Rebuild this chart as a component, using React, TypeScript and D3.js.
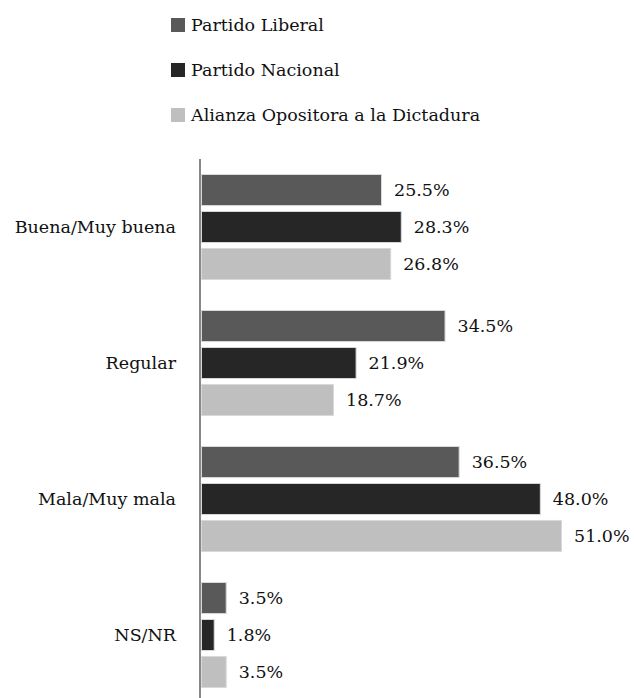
import React, { useEffect, useRef } from 'react';
import * as d3 from 'd3';

const categories = ['Buena/Muy buena', 'Regular', 'Mala/Muy mala', 'NS/NR'];
const seriesNames = ['Partido Liberal', 'Partido Nacional', 'Alianza Opositora a la Dictadura'];
const liberal = [25.5, 34.5, 36.5, 3.5];
const nacional = [28.3, 21.9, 48.0, 1.8];
const alianza = [26.8, 18.7, 51.0, 3.5];
const colors = ['#595959', '#262626', '#bfbfbf'];

const W = 634;
const H = 698;
const FONT = '"DejaVu Serif"';
const FS = '17.5px';

export default function App() {
  const ref = useRef<SVGSVGElement>(null);

  useEffect(() => {
    const svg = d3.select(ref.current);
    svg.selectAll('*').remove();
    const seriesValues = [liberal, nacional, alianza];

    // legend
    const legend = svg.append('g');
    seriesNames.forEach((name, i) => {
      const cy = 25 + i * 45;
      legend.append('rect')
        .attr('x', 171).attr('y', cy - 7)
        .attr('width', 14).attr('height', 14)
        .attr('fill', colors[i]);
      legend.append('text')
        .attr('x', 191).attr('y', cy)
        .attr('dy', '0.35em')
        .style('font-family', FONT).style('font-size', FS)
        .attr('fill', '#111')
        .text(name);
    });

    const x = d3.scaleLinear().domain([0, 51]).range([201, 561]);
    const y0 = d3.scaleBand<string>()
      .domain(categories)
      .range([159, 703])
      .paddingInner(0.228)
      .paddingOuter(0.114);
    const y1 = d3.scaleBand<number>()
      .domain([0, 1, 2])
      .range([0, y0.bandwidth()])
      .paddingInner(0.16);

    const groups = svg.selectAll('g.grp')
      .data(categories)
      .enter().append('g')
      .attr('class', 'grp')
      .attr('transform', d => `translate(0,${y0(d)})`);

    groups.each(function (cat, ci) {
      const g = d3.select(this);
      seriesValues.forEach((vals, si) => {
        const v = vals[ci];
        g.append('rect')
          .attr('x', x(0) + 0.5)
          .attr('y', y1(si)!)
          .attr('width', x(v) - x(0))
          .attr('height', y1.bandwidth())
          .attr('fill', colors[si])
          .attr('stroke', '#d9d9d9')
          .attr('stroke-width', 1);
        g.append('text')
          .attr('x', x(v) + 13)
          .attr('y', y1(si)! + y1.bandwidth() / 2)
          .attr('dy', '0.35em')
          .style('font-family', FONT).style('font-size', FS)
          .attr('fill', '#111')
          .text(v.toFixed(1) + '%');
      });
      g.append('text')
        .attr('x', 176)
        .attr('y', y0.bandwidth() / 2)
        .attr('dy', '0.35em')
        .attr('text-anchor', 'end')
        .style('font-family', FONT).style('font-size', FS)
        .attr('fill', '#111')
        .text(cat);
    });

    // axis line
    svg.append('line')
      .attr('x1', 200).attr('x2', 200)
      .attr('y1', 159).attr('y2', H)
      .attr('stroke', '#888').attr('stroke-width', 2);
  }, []);

  return (
    <svg ref={ref} width={W} height={H}
      style={{ position: 'absolute', left: 0, top: 0, background: '#fff' }} />
  );
}
